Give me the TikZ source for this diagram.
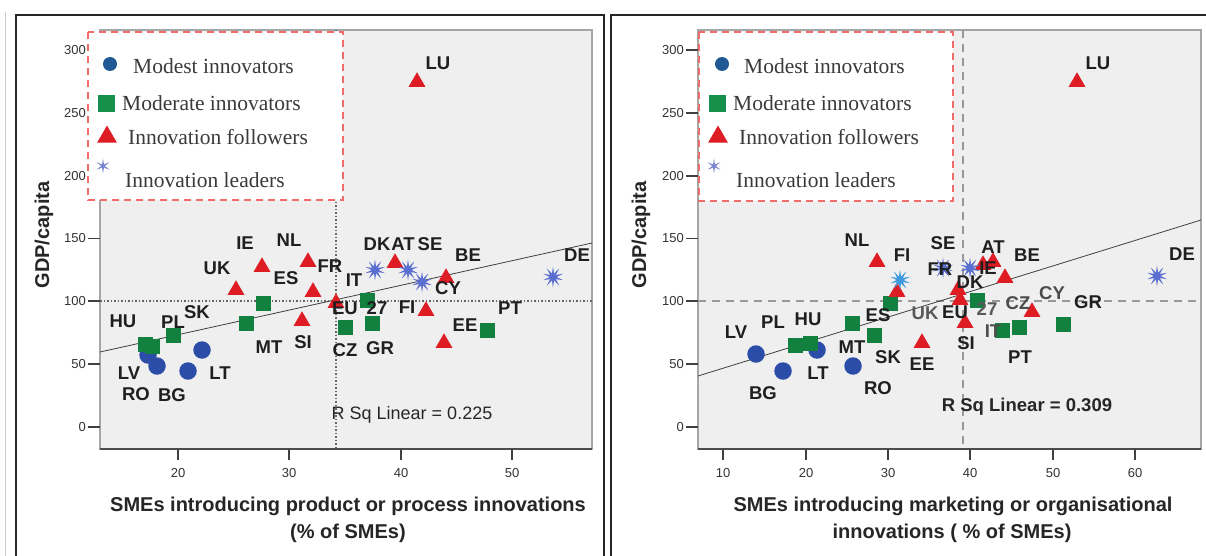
\documentclass[tikz,border=0pt]{standalone}
\usepackage{fontspec}
\setmainfont{Liberation Serif}
\newfontfamily\lsans{Liberation Sans}
\usetikzlibrary{shapes.geometric}
\definecolor{plotbg}{HTML}{EFEFEF}
\definecolor{modest}{HTML}{2B4DA8}
\definecolor{moderate}{HTML}{12803E}
\definecolor{follower}{HTML}{DD1C24}
\definecolor{leader}{HTML}{5B6FD0}
\definecolor{legred}{HTML}{F26B6B}
\definecolor{legtext}{HTML}{3A3A3A}
\definecolor{legblue}{HTML}{1F5A96}
\definecolor{leggreen}{HTML}{14904A}
\definecolor{legstar}{HTML}{7B86D0}
\tikzset{
  circ/.style={circle, fill=modest, minimum size=17.5pt, inner sep=0pt},
  sqr/.style={rectangle, fill=moderate, minimum size=15pt, inner sep=0pt},
  tri/.style={regular polygon, regular polygon sides=3, fill=follower, minimum size=19.5pt, inner sep=0pt},
  lead/.style={star, star points=10, star point ratio=3, fill=leader, minimum size=21pt, inner sep=0pt},
  lbl/.style={font=\lsans\bfseries\fontsize{18.5}{20}\selectfont, inner sep=0pt, text=black!88},
  ticklbl/.style={font=\lsans\fontsize{13}{14}\selectfont, inner sep=0pt, text=black!80},
  axtitle/.style={font=\lsans\bfseries\fontsize{20}{22}\selectfont, inner sep=0pt, text=black!85},
  legtxt/.style={font=\fontsize{21.5}{24}\selectfont, inner sep=0pt, text=legtext, anchor=base west},
  legbox/.style={draw=legred, fill=white, line width=2.2pt, dash pattern=on 7pt off 5pt},
  plotframe/.style={draw=black!35, line width=1.5pt, fill=plotbg},
  refdot/.style={draw=black!60, line width=1.2pt, dash pattern=on 1.5pt off 2pt},
  refdash/.style={draw=black!40, line width=2pt, dash pattern=on 8pt off 6pt},
  regline/.style={draw=black!75, line width=0.8pt},
  tickmark/.style={draw=black!75, line width=1.3pt},
  panel/.style={draw=black!85, line width=2.2pt}
}
\begin{document}
\begin{tikzpicture}[x=1pt,y=-1pt]
\useasboundingbox (0,0) rectangle (1206,556);
\clip (0,0) rectangle (1206,556);
\fill[white] (0,0) rectangle (1206,556);
% outer panels
\draw[black!20, line width=1pt] (5,12) -- (5,560);
\draw[panel] (16,15) rectangle (604,600);
\draw[panel] (611,15) rectangle (1240,600);

% ================= LEFT PLOT =================
\draw[plotframe] (100,30) rectangle (592,449);
\draw[draw=black!70, line width=1.5pt] (100,449) -- (592,449);
% y ticks
\foreach \v/\yy in {0/427,50/364,100/301,150/238.5,200/176,250/113,300/50}{
  \draw[tickmark] (88,\yy) -- (100,\yy);
  \node[ticklbl, anchor=east] (lyt\v) at (86,\yy) {\v};
}
% x ticks
\foreach \u/\xx in {20/178,30/289,40/401,50/512}{
  \draw[tickmark] (\xx,449) -- (\xx,460);
  \node[ticklbl] (lxt\u) at (\xx,473) {\u};
}
% reference lines
\coordinate (lvt) at (336,30); \coordinate (lvb) at (336,449);
\coordinate (lhl) at (100,301); \coordinate (lhr) at (592,301);
\draw[refdot] (lvt) -- (lvb);
\draw[refdot] (lhl) -- (lhr);
% regression
\coordinate (lra) at (100,352); \coordinate (lrb) at (592,243);
\draw[regline] (lra) -- (lrb);
% markers
\node[circ] (lcLV) at (148,355) {};
\node[circ] (lcRO) at (157,366) {};
\node[circ] (lcBG) at (188,371) {};
\node[circ] (lcLT) at (202,350) {};
\node[sqr] (lsHU) at (145,344) {};
\node[sqr] (lsSK) at (152,346) {};
\node[sqr] (lsPL) at (173,335) {};
\node[sqr] (lsMT) at (246,323) {};
\node[sqr] (lsES) at (263,303) {};
\node[sqr] (lsEU) at (367,300) {};
\node[sqr] (lsCZ) at (345,327) {};
\node[sqr] (lsGR) at (372,323) {};
\node[sqr] (lsPT) at (487,330) {};
\node[tri] (ltUK) at (236,290) {};
\node[tri] (ltIE) at (262,267) {};
\node[tri] (ltNL) at (308,262) {};
\node[tri] (ltFR) at (313,292) {};
\node[tri] (ltSI) at (302,321) {};
\node[tri] (ltIT) at (336,303) {};
\node[tri] (ltAT) at (395,263) {};
\node[tri] (ltBE) at (446,278) {};
\node[tri] (ltFI) at (426,311) {};
\node[tri] (ltEE) at (444,343) {};
\node[tri] (ltLU) at (417,82) {};
\node[lead] (lxDK) at (375,270) {};
\node[lead] (lxSE) at (408,270) {};
\node[lead] (lxCY) at (422,282) {};
\node[lead] (lxDE) at (553,277) {};
% labels
\node[lbl] (llUK) at (217,268) {UK};
\node[lbl] (llIE) at (245,243) {IE};
\node[lbl] (llNL) at (289,240) {NL};
\node[lbl] (llES) at (286,278) {ES};
\node[lbl] (llFR) at (330,266) {FR};
\node[lbl] (llIT) at (354,280) {IT};
\node[lbl] (llMT) at (269,347) {MT};
\node[lbl] (llSI) at (303,342) {SI};
\node[lbl] (llHU) at (123,321) {HU};
\node[lbl] (llPL) at (173,322) {PL};
\node[lbl] (llSK) at (197,312) {SK};
\node[lbl] (llLV) at (129,373) {LV};
\node[lbl] (llRO) at (136,394) {RO};
\node[lbl] (llBG) at (172,395) {BG};
\node[lbl] (llLT) at (220,373) {LT};
\node[lbl] (llDK) at (377,244) {DK};
\node[lbl] (llAT) at (403,244) {AT};
\node[lbl] (llSE) at (430,244) {SE};
\node[lbl] (llBE) at (468,255) {BE};
\node[lbl] (llCY) at (448,288) {CY};
\node[lbl] (llFI) at (407,307) {FI};
\node[lbl] (llEU) at (345,308) {EU};
\node[lbl] (ll27) at (377,308) {27};
\node[lbl] (llCZ) at (345,350) {CZ};
\node[lbl] (llGR) at (380,348) {GR};
\node[lbl] (llEE) at (465,325) {EE};
\node[lbl] (llPT) at (510,308) {PT};
\node[lbl] (llDE) at (577,255) {DE};
\node[lbl] (llLU) at (438,63) {LU};
\node[font=\lsans\fontsize{18}{20}\selectfont, inner sep=0pt, text=black!85] (lrsq) at (412,415) {R Sq Linear = 0.225};
% legend
\draw[legbox] (88,32) rectangle (343,200);
\node[circle, fill=legblue, minimum size=14pt, inner sep=0pt] (lgc) at (110,64) {};
\node[legtxt] (lgct) at (133,74) {Modest innovators};
\node[rectangle, fill=leggreen, minimum size=17pt, inner sep=0pt] (lgs) at (106,104) {};
\node[legtxt] (lgst) at (122,111) {Moderate innovators};
\node[regular polygon, regular polygon sides=3, fill=follower, minimum size=23pt, inner sep=0pt] (lgt) at (107,137) {};
\node[legtxt] (lgtt) at (128,145) {Innovation followers};
\node[star, star points=6, star point ratio=4, fill=legstar, minimum size=15pt, inner sep=0pt] (lgx) at (103,166) {};
\node[legtxt] (lgxt) at (125,187) {Innovation leaders};
% axis titles
\node[axtitle, rotate=90] (lyti) at (44,235) {GDP/capita};
\node[axtitle] (lxti1) at (348,506) {SMEs introducing product or process innovations};
\node[axtitle] (lxti2) at (348,533) {(\% of SMEs)};

% ================= RIGHT PLOT =================
\draw[plotframe] (698,30) rectangle (1201,449);
\draw[draw=black!70, line width=1.5pt] (698,449) -- (1201,449);
\foreach \v/\yy in {0/427,50/364,100/301,150/238.5,200/176,250/113,300/50}{
  \draw[tickmark] (686,\yy) -- (698,\yy);
  \node[ticklbl, anchor=east] (ryt\v) at (684,\yy) {\v};
}
\foreach \u/\xx in {10/723,20/806,30/888,40/970,50/1053,60/1135}{
  \draw[tickmark] (\xx,449) -- (\xx,460);
  \node[ticklbl] (rxt\u) at (\xx,473) {\u};
}
\coordinate (rvt) at (963,30); \coordinate (rvb) at (963,449);
\coordinate (rhl) at (698,301); \coordinate (rhr) at (1201,301);
\draw[refdash] (rvt) -- (rvb);
\draw[refdash] (rhl) -- (rhr);
\coordinate (rra) at (698,376); \coordinate (rrb) at (1201,220);
\draw[regline] (rra) -- (rrb);
% markers
\node[circ] (rcLV) at (756,354) {};
\node[circ] (rcBG) at (783,371) {};
\node[circ] (rcLT) at (817,350) {};
\node[circ] (rcRO) at (853,366) {};
\node[sqr] (rsPL) at (795,345) {};
\node[sqr] (rsHU) at (810,343) {};
\node[sqr] (rsMT) at (852,323) {};
\node[sqr] (rsSK) at (874,335) {};
\node[sqr] (rsES) at (890,303) {};
\node[sqr] (rsEU) at (977,300) {};
\node[sqr] (rsIT) at (1002,330) {};
\node[sqr] (rsPT) at (1019,327) {};
\node[sqr] (rsGR) at (1063,324) {};
\node[tri] (rtNL) at (877,262) {};
\node[tri] (rtUK) at (897,292) {};
\node[tri] (rtEE) at (922,343) {};
\node[tri] (rtIE) at (983,265) {};
\node[tri] (rtAT) at (993,262) {};
\node[tri] (rtBE) at (1005,278) {};
\node[tri] (rtDK) at (958,290) {};
\node[tri] (rtEU) at (960,300) {};
\node[tri] (rtSI) at (965,323) {};
\node[tri] (rtCZ) at (1032,312) {};
\node[tri] (rtLU) at (1077,82) {};
\node[lead, fill=leader!70!cyan] (rxFI) at (900,280) {};
\node[lead] (rxFR) at (943,268) {};
\node[lead] (rxSE) at (970,268) {};
\node[lead] (rxDE) at (1157,276) {};
% labels
\node[lbl] (rlNL) at (857,240) {NL};
\node[lbl] (rlFI) at (902,255) {FI};
\node[lbl] (rlSE) at (943,243) {SE};
\node[lbl] (rlFR) at (940,269) {FR};
\node[lbl] (rlAT) at (993,247) {AT};
\node[lbl] (rlIE) at (988,268) {IE};
\node[lbl] (rlBE) at (1027,255) {BE};
\node[lbl] (rlDK) at (970,282) {DK};
\node[lbl] (rlES) at (878,315) {ES};
\node[lbl, text=black!65] (rlUK) at (925,313) {UK};
\node[lbl] (rlEU) at (955,312) {EU};
\node[lbl, text=black!65] (rl27) at (987,309) {27};
\node[lbl, text=black!70] (rlCZ) at (1018,303) {CZ};
\node[lbl, text=black!70] (rlCY) at (1052,293) {CY};
\node[lbl] (rlGR) at (1088,302) {GR};
\node[lbl, text=black!70] (rlIT) at (993,331) {IT};
\node[lbl] (rlSI) at (966,343) {SI};
\node[lbl] (rlPT) at (1020,357) {PT};
\node[lbl] (rlEE) at (922,364) {EE};
\node[lbl] (rlLV) at (736,332) {LV};
\node[lbl] (rlPL) at (773,322) {PL};
\node[lbl] (rlHU) at (808,319) {HU};
\node[lbl] (rlMT) at (852,347) {MT};
\node[lbl] (rlSK) at (888,357) {SK};
\node[lbl] (rlLT) at (818,373) {LT};
\node[lbl] (rlBG) at (763,393) {BG};
\node[lbl] (rlRO) at (878,388) {RO};
\node[lbl] (rlDE) at (1182,254) {DE};
\node[lbl] (rlLU) at (1098,63) {LU};
\node[font=\lsans\bfseries\fontsize{18.5}{20}\selectfont, inner sep=0pt, text=black!85] (rrsq) at (1027,407) {R Sq Linear = 0.309};
% legend
\draw[legbox] (699,32) rectangle (953,201);
\node[circle, fill=legblue, minimum size=14pt, inner sep=0pt] (rgc) at (722,64) {};
\node[legtxt] (rgct) at (744,74) {Modest innovators};
\node[rectangle, fill=leggreen, minimum size=17pt, inner sep=0pt] (rgs) at (717,104) {};
\node[legtxt] (rgst) at (733,111) {Moderate innovators};
\node[regular polygon, regular polygon sides=3, fill=follower, minimum size=23pt, inner sep=0pt] (rgt) at (718,137) {};
\node[legtxt] (rgtt) at (739,145) {Innovation followers};
\node[star, star points=6, star point ratio=4, fill=legstar, minimum size=15pt, inner sep=0pt] (rgx) at (714,166) {};
\node[legtxt] (rgxt) at (736,187) {Innovation leaders};
% axis titles
\node[axtitle, rotate=90] (ryti) at (641,235) {GDP/capita};
\node[axtitle] (rxti1) at (953,506) {SMEs introducing marketing or organisational};
\node[axtitle] (rxti2) at (952,533) {innovations ( \% of SMEs)};
\end{tikzpicture}
\end{document}
